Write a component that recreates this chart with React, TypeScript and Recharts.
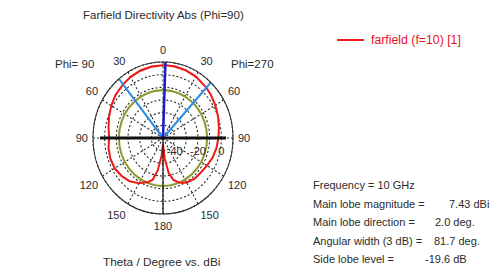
import { RadarChart, Radar, PolarGrid, PolarAngleAxis, PolarRadiusAxis } from "recharts";

// theta in degrees: negative = "Phi= 90" half (left), positive = "Phi=270" half (right)
const THETA = [
  -180, -175, -170, -165, -160, -150, -140, -130, -120, -110, -100, -90, -80, -70, -60, -50, -39, -30, -20, -10,
  0, 2, 10, 20, 30, 43, 50, 60, 70, 80, 90, 100, 110, 120, 130, 140, 150, 155, 160, 165, 170, 175,
];
// farfield directivity (dBi)
const FARFIELD_DBI = [
  -45, -36, -24, -16, -13, -8.8, -5.5, -3.5, -2.2, -2.0, -2.6, -3.8, -2.6, -0.8, 1.2, 3.0, 4.4, 5.6, 6.6, 7.2,
  7.4, 7.43, 7.35, 6.9, 6.1, 4.4, 3.4, 1.8, 0.2, -1.3, -2.5, -3.5, -4.8, -6.5, -7.6, -8.0, -9.5, -10.8, -13, -15.7, -22, -34,
];

const MAIN_LOBE_DBI = 7.43;
const MAIN_LOBE_DIR = 2;
const HALF_POWER_EDGES = [-39, 43];
const SIDE_LOBE_DB = -19.6;
const AXIS_MARK_DBI = 4;

const R_MIN = -50;
const R_MAX = 10;
const ANGLE_TICKS = [-150, -120, -90, -60, -30, 0, 30, 60, 90, 120, 150, 180];
const RADIUS_LABELS = [-40, -20, 0];

const INFO_LABELS = ["Frequency = 10 GHz", "Main lobe magnitude =", "Main lobe direction =", "Angular width (3 dB) =", "Side lobe level ="];
const INFO_VALUES = ["", `${MAIN_LOBE_DBI} dBi`, `${MAIN_LOBE_DIR.toFixed(1)} deg.`, "81.7 deg.", `${SIDE_LOBE_DB} dB`];
const INFO_VALUE_X = [0, 449, 435, 434, 425];

const data = THETA.map((t, i) => ({
  theta: t,
  farfield: FARFIELD_DBI[i],
  sidelobe: MAIN_LOBE_DBI + SIDE_LOBE_DB,
  main: t === MAIN_LOBE_DIR ? R_MAX : R_MIN,
  hpbw: HALF_POWER_EDGES.includes(t) ? R_MAX : R_MIN,
  horiz: t === -90 || t === 90 ? AXIS_MARK_DBI : R_MIN,
  vert: t === -180 ? R_MAX : R_MIN,
}));

const FONT = '"Liberation Sans", Arial, sans-serif';
const TEXT = "#2b2b2b";
const CX = 163;
const CY = 138;
const SY = 1.086; // the original plot is slightly taller than wide

const AngleTick = (props: any) => {
  const { x, y, payload, textAnchor } = props;
  const dy = y < CY - 1 ? -6 : y > CY + 1 ? 6 : 0;
  return (
    <text
      transform={`translate(${x},${y + dy}) scale(1,${1 / SY})`}
      textAnchor={textAnchor}
      dominantBaseline="central"
      fontSize={11}
      fill={TEXT}
      fontFamily={FONT}
    >
      {Math.abs(payload.value)}
    </text>
  );
};

const RadiusTick = (props: any) => {
  const { x, y, payload } = props;
  if (!RADIUS_LABELS.includes(payload.value)) return <g />;
  return (
    <text
      transform={`translate(${x},${y + 12}) scale(1,${1 / SY})`}
      textAnchor="middle"
      dominantBaseline="central"
      fontSize={11}
      fill={TEXT}
      fontFamily={FONT}
    >
      {payload.value}
    </text>
  );
};

const abs = (left: number, top: number, extra: any = {}) => ({
  position: "absolute" as const,
  left,
  top,
  whiteSpace: "pre" as const,
  fontFamily: FONT,
  color: TEXT,
  lineHeight: "14px",
  ...extra,
});

export default function App() {
  return (
    <div style={{ position: "absolute", left: 0, top: 0, width: 495, height: 274, background: "#fff", overflow: "hidden" }}>
      <div style={{ position: "absolute", left: 0, top: 0, transform: `scaleY(${SY})`, transformOrigin: `0px ${CY}px` }}>
        <RadarChart
          width={330}
          height={274}
          cx={CX}
          cy={CY}
          outerRadius={70}
          data={data}
          startAngle={-90}
          endAngle={-450}
          margin={{ top: 0, right: 0, bottom: 0, left: 0 }}
        >
          <PolarGrid gridType="circle" stroke="#222" strokeDasharray="2 2" />
          <PolarAngleAxis
            dataKey="theta"
            type="number"
            domain={[-180, 180]}
            ticks={ANGLE_TICKS}
            tick={AngleTick}
            tickLine={false}
            tickSize={5}
            axisLine={{ stroke: "#333" }}
            axisLineType="circle"
          />
          <PolarRadiusAxis angle={0} domain={[R_MIN, R_MAX]} tickCount={7} axisLine={false} tickLine={false} tick={RadiusTick} />
          <Radar dataKey="sidelobe" stroke="#8c9a30" strokeWidth={2} fill="none" dot={false} isAnimationActive={false} />
          <Radar dataKey="farfield" stroke="#ee1a1a" strokeWidth={2} fill="none" dot={false} isAnimationActive={false} />
          <Radar dataKey="hpbw" stroke="#2b8de8" strokeWidth={2} fill="none" dot={false} isAnimationActive={false} />
          <Radar dataKey="main" stroke="#1c1ccc" strokeWidth={2.5} fill="none" dot={false} isAnimationActive={false} />
          <Radar dataKey="vert" stroke="#111" strokeWidth={1.2} fill="none" dot={false} isAnimationActive={false} />
          <Radar dataKey="horiz" stroke="#111" strokeWidth={2.8} fill="none" dot={false} isAnimationActive={false} />
        </RadarChart>
      </div>

      <div style={abs(83, 8, { fontSize: 11.5, width: 160, textAlign: "center" })}>Farfield Directivity Abs (Phi=90)</div>
      <div style={abs(55, 57, { fontSize: 11.5 })}>Phi= 90</div>
      <div style={abs(231, 57, { fontSize: 11.5 })}>Phi=270</div>
      <div style={abs(103, 255, { fontSize: 11.8 })}>Theta / Degree vs. dBi</div>

      <div style={{ position: "absolute", left: 337, top: 39, width: 27, height: 2, background: "#ee1a1a" }} />
      <div style={abs(371, 33, { fontSize: 12.3, color: "#e3121c" })}>farfield (f=10) [1]</div>

      {INFO_LABELS.map((label, i) => (
        <div key={label} style={abs(313, 178 + i * 18.5, { fontSize: 11 })}>
          {label}
        </div>
      ))}
      {INFO_VALUES.map((v, i) =>
        v ? (
          <div key={i} style={abs(INFO_VALUE_X[i], 178 + i * 18.5, { fontSize: 11 })}>
            {v}
          </div>
        ) : null
      )}
    </div>
  );
}
